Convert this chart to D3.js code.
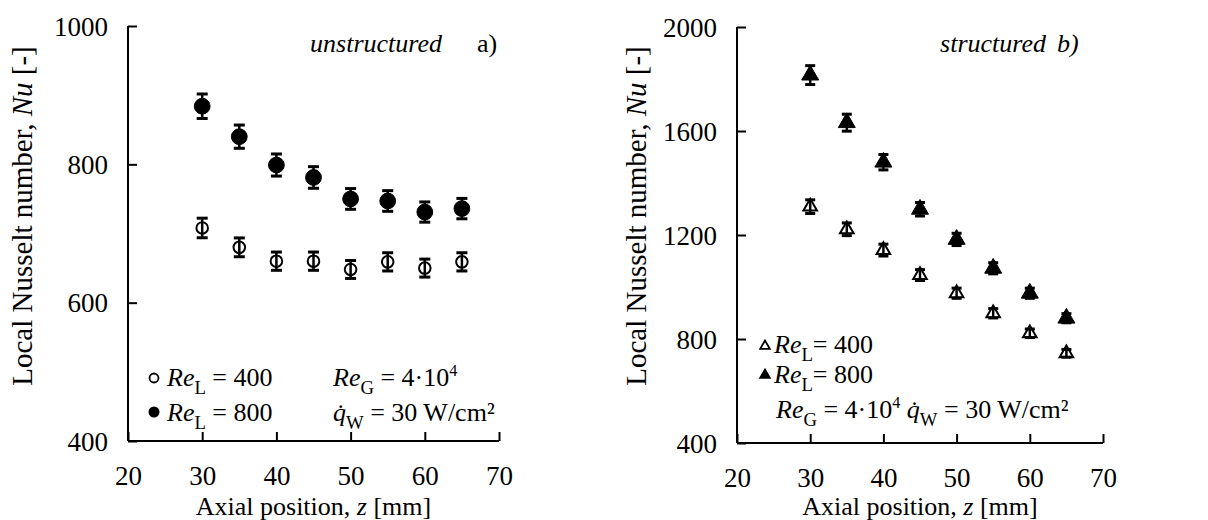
<!DOCTYPE html>
<html>
<head>
<meta charset="utf-8">
<script src="https://cdnjs.cloudflare.com/ajax/libs/d3/7.8.5/d3.min.js"></script>
<style>
  body { margin: 0; background: #fff; }
  svg text { font-family: "Liberation Serif", "Times New Roman", Times, serif; fill: #000; }
</style>
</head>
<body>
<div id="chart"></div>
<script>
// axial positions [mm]
const positions = [30, 35, 40, 45, 50, 55, 60, 65]

// a) unstructured packing
const nuUnstr400 = [708, 680, 660, 660, 648, 659, 650, 659]
const nuUnstr800 = [884, 840, 799, 781, 750, 747, 731, 736]

// b) structured packing
const nuStr400 = [1309, 1222, 1142, 1046, 976, 899, 822, 745]
const nuStr800 = [1815, 1632, 1480, 1299, 1183, 1072, 976, 880]

const xTicks = [20, 30, 40, 50, 60, 70]
const yTicksA = [400, 600, 800, 1000]
const yTicksB = [400, 800, 1200, 1600, 2000]

// relative measurement uncertainty for error bars
const errFrac = 0.02

const SERIF = '"Liberation Serif", "Times New Roman", Times, serif'

const svg = d3.select('#chart').append('svg')
  .attr('width', 1208)
  .attr('height', 520)
  .attr('font-family', SERIF)

// write text made of pieces: [string, style] with style '', 'i', 'sub', 'sup'
function rich (g, x, y, parts, size) {
  const t = g.append('text')
    .attr('x', x)
    .attr('y', y)
    .attr('font-family', SERIF)
    .attr('font-size', size)
  let shift = 0
  parts.forEach(p => {
    const s = p[1] || ''
    const ts = t.append('tspan').text(p[0])
    let target = 0
    if (s.includes('i')) ts.attr('font-style', 'italic')
    if (s.includes('sub')) { target = size * 0.3; ts.attr('font-size', size * 0.72) }
    if (s.includes('sup')) { target = -size * 0.38; ts.attr('font-size', size * 0.62) }
    ts.attr('dy', target - shift)
    shift = target
  })
  return t
}

function panel (opt) {
  const g = svg.append('g')
  const x = d3.scaleLinear().domain([20, 70]).range(opt.xRange)
  const y = d3.scaleLinear().domain(opt.yDomain).range(opt.yRange)

  const xAxis = g.append('g')
    .attr('transform', 'translate(0,' + opt.yRange[0] + ')')
    .call(d3.axisBottom(x).tickValues(xTicks).tickFormat(d3.format('d')).tickSize(-9).tickPadding(25))
  const yAxis = g.append('g')
    .attr('transform', 'translate(' + opt.xRange[0] + ',0)')
    .call(d3.axisLeft(y).tickValues(opt.yTicks).tickFormat(d3.format('d')).tickSize(-9).tickPadding(20))

  ;[xAxis, yAxis].forEach(a => {
    a.attr('font-family', SERIF).attr('font-size', 27)
    a.select('.domain').remove()
    a.selectAll('.tick line').attr('stroke-width', 2)
    a.selectAll('.tick text').attr('fill', '#000')
  })
  yAxis.selectAll('.tick text').attr('dy', '0.34em')

  // plain axis lines without end caps
  g.append('line')
    .attr('x1', opt.xRange[0]).attr('x2', opt.xRange[1])
    .attr('y1', opt.yRange[0]).attr('y2', opt.yRange[0])
    .attr('stroke', '#000').attr('stroke-width', 2)
  g.append('line')
    .attr('x1', opt.xRange[0]).attr('x2', opt.xRange[0])
    .attr('y1', opt.yRange[0]).attr('y2', opt.yRange[1])
    .attr('stroke', '#000').attr('stroke-width', 2)

  // axis titles
  rich(g, (opt.xRange[0] + opt.xRange[1]) / 2, 515,
    [['Axial position, '], ['z', 'i'], [' [mm]']], 26)
    .attr('text-anchor', 'middle')
  rich(g, 0, 0, [['Local Nusselt number, '], ['Nu', 'i'], [' [-]']], 29)
    .attr('text-anchor', 'middle')
    .attr('transform', 'translate(' + opt.yTitleX + ',216) rotate(-90)')

  // series
  opt.series.forEach(s => {
    const pts = positions.map((p, i) => ({ z: p, v: s.values[i] }))
    const grp = g.append('g')
    const bars = grp.selectAll('g.err').data(pts).enter().append('g')
    bars.append('line')
      .attr('x1', d => x(d.z)).attr('x2', d => x(d.z))
      .attr('y1', d => y(d.v * (1 - errFrac))).attr('y2', d => y(d.v * (1 + errFrac)))
      .attr('stroke', '#000').attr('stroke-width', 2.5)
    ;[1 - errFrac, 1 + errFrac].forEach(f => {
      bars.append('line')
        .attr('x1', d => x(d.z) - s.cap).attr('x2', d => x(d.z) + s.cap)
        .attr('y1', d => y(d.v * f)).attr('y2', d => y(d.v * f))
        .attr('stroke', '#000').attr('stroke-width', 3)
    })
    grp.selectAll('path.mark').data(pts).enter().append('path')
      .attr('class', 'mark')
      .attr('transform', d => 'translate(' + x(d.z) + ',' + y(d.v) + ')')
      .attr('d', d3.symbol().type(s.symbol).size(s.size))
      .attr('fill', s.filled ? '#000' : 'none')
      .attr('stroke', '#000')
      .attr('stroke-width', s.filled ? 1 : 2)
  })
  return g
}

// a) unstructured
const ga = panel({
  xRange: [128, 499],
  yRange: [441, 26],
  yDomain: [400, 1000],
  yTicks: yTicksA,
  yTitleX: 32,
  series: [
    { values: nuUnstr400, symbol: d3.symbolCircle, size: 105, filled: false, cap: 5.5 },
    { values: nuUnstr800, symbol: d3.symbolCircle, size: 195, filled: true, cap: 5.5 }
  ]
})

rich(ga, 442, 52, [['unstructured', 'i']], 26).attr('text-anchor', 'end')
rich(ga, 477, 52, [['a)']], 26)

ga.append('circle').attr('cx', 154).attr('cy', 378).attr('r', 4.5)
  .attr('fill', 'none').attr('stroke', '#000').attr('stroke-width', 1.8)
ga.append('circle').attr('cx', 154).attr('cy', 412).attr('r', 5.5).attr('fill', '#000')
rich(ga, 167, 386, [['Re', 'i'], ['L', 'sub'], [' = 400']], 26)
rich(ga, 167, 421, [['Re', 'i'], ['L', 'sub'], [' = 800']], 26)
rich(ga, 333, 386, [['Re', 'i'], ['G', 'sub'], [' = 4·10'], ['4', 'sup']], 26)
rich(ga, 333, 421, [['q\u0307', 'i'], ['W', 'sub'], [' = 30 W/cm²']], 26)

// b) structured
const gb = panel({
  xRange: [737, 1103],
  yRange: [443, 27],
  yDomain: [400, 2000],
  yTicks: yTicksB,
  yTitleX: 646,
  series: [
    { values: nuStr400, symbol: d3.symbolTriangle, size: 80, filled: false, cap: 5 },
    { values: nuStr800, symbol: d3.symbolTriangle, size: 125, filled: true, cap: 5 }
  ]
})

rich(gb, 1046, 52, [['structured', 'i']], 26).attr('text-anchor', 'end')
rich(gb, 1057, 52, [['b)', 'i']], 26)

gb.append('path').attr('transform', 'translate(765,346)')
  .attr('d', d3.symbol().type(d3.symbolTriangle).size(40))
  .attr('fill', 'none').attr('stroke', '#000').attr('stroke-width', 1.8)
gb.append('path').attr('transform', 'translate(765,375)')
  .attr('d', d3.symbol().type(d3.symbolTriangle).size(70))
  .attr('fill', '#000')
rich(gb, 774, 353, [['Re', 'i'], ['L', 'sub'], ['= 400']], 26)
rich(gb, 774, 383, [['Re', 'i'], ['L', 'sub'], ['= 800']], 26)
rich(gb, 776, 418, [['Re', 'i'], ['G', 'sub'], [' = 4·10'], ['4', 'sup'], [' '], ['q\u0307', 'i'], ['W', 'sub'], [' = 30 W/cm²']], 26)
</script>
</body>
</html>
